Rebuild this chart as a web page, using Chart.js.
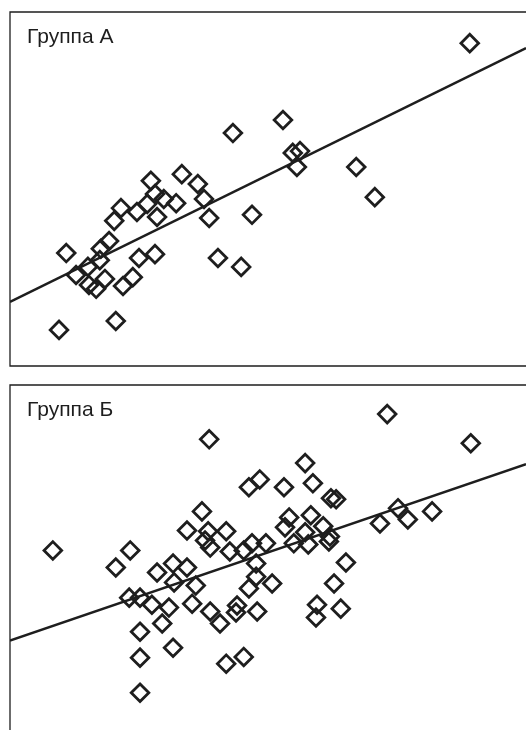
<!DOCTYPE html>
<html>
<head>
<meta charset="utf-8">
<script src="https://cdn.jsdelivr.net/npm/chart.js@4"></script>
<style>
  html, body { margin: 0; padding: 0; background: #fff; overflow: hidden; width: 526px; height: 730px; }
  .panel { position: absolute; left: 0; }
  #panelA { top: 0; }
  #panelB { top: 370px; }
</style>
</head>
<body>
<div class="panel" id="panelA"><canvas id="chartA" width="526" height="367"></canvas></div>
<div class="panel" id="panelB"><canvas id="chartB" width="526" height="370"></canvas></div>
<script>
// Группа А
const groupAX = [9.5, 10.9, 12.8, 15.1, 15.3, 16.7, 17.4, 17.6, 18.4, 19.2, 20.2, 20.5, 21.5, 21.9, 23.8, 24.6, 25.0, 26.6, 27.3, 28.1,
	28.1, 28.5, 29.8, 32.2, 33.3, 36.4, 37.6, 38.6, 40.3, 43.2, 44.8, 46.9, 52.9, 54.8, 56.2, 55.6, 67.1, 70.7, 89.1];
const groupAY = [10.2, 31.9, 25.7, 28.0, 22.9, 21.8, 29.9, 33.1, 24.6, 35.3, 41.0, 12.7, 44.6, 22.6, 25.1, 43.5, 30.5, 45.8, 52.3, 48.6,
	31.6, 42.1, 47.2, 46.0, 54.2, 51.4, 47.2, 41.8, 30.5, 65.8, 28.0, 42.7, 69.5, 60.2, 60.7, 56.2, 56.2, 47.7, 91.2];
const trendAX = [0, 100];
const trendAY = [18.1, 89.8];

// Группа Б
const groupBX = [8.3, 23.3, 20.5, 28.5, 31.6, 34.3, 31.8, 36.0, 23.1, 25.2, 27.5, 30.8, 35.3, 38.8, 40.7, 29.5, 25.2, 31.6, 25.2, 25.2,
	41.9, 45.3, 44.0, 43.8, 47.9, 46.3, 47.7, 47.7, 50.8, 65.1, 62.8, 59.5, 59.3, 64.1, 38.8, 42.6, 45.3, 49.6, 55.0, 57.8,
	61.8, 73.1, 38.6, 89.3, 57.2, 48.4, 46.3, 53.1, 58.7, 62.2, 63.2, 37.2, 54.1, 58.3, 71.7, 75.2, 77.1, 81.8, 34.3, 38.4,
	41.9, 53.3, 60.7, 62.0, 57.2, 37.8, 46.9];
const groupBY = [53.4, 53.4, 48.6, 47.2, 49.7, 48.6, 44.4, 43.5, 40.1, 40.1, 38.1, 37.3, 38.4, 36.2, 32.8, 32.8, 30.5, 26.0, 23.2, 13.3,
	21.5, 23.4, 37.9, 35.9, 36.2, 42.7, 46.0, 49.7, 44.1, 50.0, 44.1, 38.1, 34.5, 37.0, 54.2, 53.1, 53.4, 55.4, 55.4, 55.1,
	55.9, 91.8, 84.7, 83.6, 78.0, 73.4, 71.2, 71.2, 72.3, 68.1, 67.8, 64.4, 62.7, 63.3, 61.0, 65.3, 62.1, 64.4, 59.0, 58.8,
	58.8, 59.9, 60.2, 57.3, 58.5, 56.2, 55.4];
const trendBX = [0, 100];
const trendBY = [28.0, 77.7];

const ink = "#1e1e1e";

function toPoints(xs, ys) {
	return xs.map((x, i) => ({ x: x, y: ys[i] }));
}

// frame (top, left, bottom) and the group label inside the plot area
const framePlugin = {
	id: "frame",
	afterDraw(chart, args, opts) {
		const { ctx, chartArea } = chart;
		ctx.save();
		ctx.strokeStyle = ink;
		ctx.lineWidth = 1.3;
		ctx.beginPath();
		ctx.moveTo(chartArea.right + 2, chartArea.top);
		ctx.lineTo(chartArea.left, chartArea.top);
		ctx.lineTo(chartArea.left, chartArea.bottom);
		ctx.lineTo(chartArea.right + 2, chartArea.bottom);
		ctx.stroke();
		ctx.fillStyle = ink;
		ctx.font = '21px "Liberation Sans", Arial, sans-serif';
		ctx.textBaseline = "alphabetic";
		ctx.fillText(opts.label, chartArea.left + 17, chartArea.top + 31);
		ctx.restore();
	},
};

function makePanel(id, label, xs, ys, tx, ty, padding) {
	const ctx = document.getElementById(id).getContext("2d");
	new Chart(ctx, {
		type: "scatter",
		data: {
			datasets: [
				{
					data: toPoints(tx, ty),
					showLine: true,
					borderColor: ink,
					borderWidth: 2.5,
					pointRadius: 0,
					order: 2,
				},
				{
					data: toPoints(xs, ys),
					pointStyle: "rectRot",
					pointRadius: 8.8,
					pointHoverRadius: 8.8,
					pointBorderWidth: 2.8,
					pointBorderColor: ink,
					pointBackgroundColor: "rgba(255,255,255,0)",
					order: 1,
				},
			],
		},
		options: {
			responsive: false,
			animation: false,
			devicePixelRatio: 1,
			layout: { autoPadding: false, padding: padding },
			scales: {
				x: { type: "linear", min: 0, max: 100, display: false },
				y: { type: "linear", min: 0, max: 100, display: false },
			},
			plugins: {
				legend: { display: false },
				tooltip: { enabled: false },
				frame: { label: label },
			},
		},
		plugins: [framePlugin],
	});
}

document.addEventListener("DOMContentLoaded", function () {
	makePanel("chartA", "Группа А", groupAX, groupAY, trendAX, trendAY, { left: 10, top: 12, right: 0, bottom: 1 });
	makePanel("chartB", "Группа Б", groupBX, groupBY, trendBX, trendBY, { left: 10, top: 15, right: 0, bottom: 0 });
});
</script>
</body>
</html>
